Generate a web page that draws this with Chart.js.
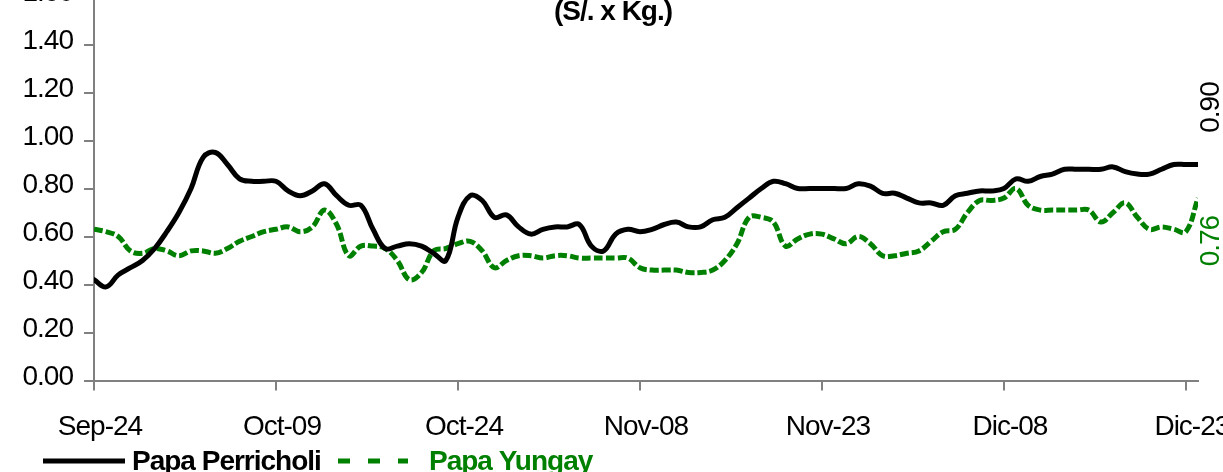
<!DOCTYPE html>
<html>
<head>
<meta charset="utf-8">
<script src="https://cdn.jsdelivr.net/npm/chart.js@4.4.1/dist/chart.umd.min.js"></script>
<style>
  html, body { margin: 0; padding: 0; background: #fff; }
  #wrap { position: relative; width: 1223px; height: 472px; overflow: hidden; }
  #chart { position: absolute; left: 0; top: -20px; }
</style>
</head>
<body>
<div id="wrap"><canvas id="chart" width="1223" height="492"></canvas></div>
<script>
// precios diarios (S/. x Kg.), Sep-24 .. Dic-24
const perricholi = [
  0.42, 0.39, 0.44, 0.47, 0.50, 0.55, 0.62, 0.70, 0.80, 0.93,
  0.95, 0.90, 0.84, 0.83, 0.83, 0.83, 0.79, 0.77, 0.79, 0.82,
  0.77, 0.73, 0.73, 0.63, 0.55, 0.56, 0.57, 0.56, 0.53, 0.50,
  0.68, 0.77, 0.75, 0.68, 0.69, 0.64, 0.61, 0.63, 0.64, 0.64,
  0.65, 0.56, 0.54, 0.61, 0.63, 0.62, 0.63, 0.65, 0.66, 0.64,
  0.64, 0.67, 0.68, 0.72, 0.76, 0.80, 0.83, 0.82, 0.80, 0.80,
  0.80, 0.80, 0.80, 0.82, 0.81, 0.78, 0.78, 0.76, 0.74, 0.74,
  0.73, 0.77, 0.78, 0.79, 0.79, 0.80, 0.84, 0.83, 0.85, 0.86,
  0.88, 0.88, 0.88, 0.88, 0.89, 0.87, 0.86, 0.86, 0.88, 0.90,
  0.90, 0.90
];
const yungay = [
  0.63, 0.62, 0.60, 0.54, 0.53, 0.55, 0.54, 0.52, 0.54, 0.54,
  0.53, 0.55, 0.58, 0.60, 0.62, 0.63, 0.64, 0.62, 0.64, 0.71,
  0.65, 0.52, 0.56, 0.56, 0.55, 0.50, 0.42, 0.45, 0.54, 0.55,
  0.57, 0.58, 0.54, 0.47, 0.50, 0.52, 0.52, 0.51, 0.52, 0.52,
  0.51, 0.51, 0.51, 0.51, 0.51, 0.47, 0.46, 0.46, 0.46, 0.45,
  0.45, 0.46, 0.50, 0.57, 0.68, 0.68, 0.66, 0.56, 0.59, 0.61,
  0.61, 0.59, 0.57, 0.60, 0.57, 0.52, 0.52, 0.53, 0.54, 0.58,
  0.62, 0.63, 0.70, 0.75, 0.75, 0.76, 0.80, 0.73, 0.71, 0.71,
  0.71, 0.71, 0.71, 0.66, 0.70, 0.74, 0.68, 0.63, 0.64, 0.63,
  0.62, 0.76
];
const xTickLabels = ['Sep-24', 'Oct-09', 'Oct-24', 'Nov-08', 'Nov-23', 'Dic-08', 'Dic-23'];
const yTickLabels = ['0.00', '0.20', '0.40', '0.60', '0.80', '1.00', '1.20', '1.40', '1.60'];
const seriesNames = ['Papa Perricholi', 'Papa Yungay'];

const GREEN = '#008000';
const AXIS = '#808080';
const FONT = "'Liberation Sans', Arial, sans-serif";

Chart.defaults.font.family = FONT;
Chart.defaults.font.size = 28;
Chart.defaults.color = '#000';

const toPoints = arr => arr.map((v, i) => ({ x: i, y: v }));

// texto algo apretado como en el original
const tightText = {
  id: 'tightText',
  beforeLayout(chart) { chart.ctx.letterSpacing = '-1px'; },
  beforeDraw(chart) { chart.ctx.letterSpacing = '-1px'; }
};

// titulo, etiquetas finales y leyenda
const extras = {
  id: 'extras',
  afterDraw(chart) {
    const ctx = chart.ctx;
    const ys = chart.scales.y;
    ctx.save();
    ctx.letterSpacing = '-1px';

    ctx.font = 'bold 28px ' + FONT;
    ctx.fillStyle = '#000';
    ctx.textAlign = 'center';
    ctx.textBaseline = 'alphabetic';
    ctx.fillText('(S/. x Kg.)', 613, 39.5);

    // valores finales rotados
    const lastP = perricholi[perricholi.length - 1];
    const lastY = yungay[yungay.length - 1];
    ctx.font = '28px ' + FONT;
    ctx.textBaseline = 'middle';
    ctx.textAlign = 'center';
    ctx.save();
    ctx.translate(1211, ys.getPixelForValue(lastP) - 57);
    ctx.rotate(-Math.PI / 2);
    ctx.fillStyle = '#000';
    ctx.fillText(lastP.toFixed(2), 0, 0);
    ctx.restore();
    ctx.save();
    ctx.translate(1211, ys.getPixelForValue(lastY) + 43);
    ctx.rotate(-Math.PI / 2);
    ctx.fillStyle = GREEN;
    ctx.fillText(lastY.toFixed(2), 0, 0);
    ctx.restore();

    // leyenda
    const ly = 481;
    ctx.lineWidth = 5;
    ctx.strokeStyle = '#000';
    ctx.beginPath();
    ctx.moveTo(43, ly); ctx.lineTo(125, ly);
    ctx.stroke();
    ctx.strokeStyle = GREEN;
    ctx.setLineDash([12, 18]);
    ctx.beginPath();
    ctx.moveTo(338, ly); ctx.lineTo(408, ly);
    ctx.stroke();
    ctx.setLineDash([]);
    ctx.font = 'bold 28px ' + FONT;
    ctx.textAlign = 'left';
    ctx.textBaseline = 'alphabetic';
    ctx.fillStyle = '#000';
    ctx.fillText(seriesNames[0], 132, 490);
    ctx.fillStyle = GREEN;
    ctx.fillText(seriesNames[1], 429, 490);
    ctx.restore();
  }
};

new Chart(document.getElementById('chart'), {
  type: 'line',
  data: {
    datasets: [
      {
        label: seriesNames[0],
        data: toPoints(perricholi),
        borderColor: '#000',
        borderWidth: 5,
        tension: 0.4,
        pointRadius: 0,
        borderCapStyle: 'round',
        borderJoinStyle: 'round'
      },
      {
        label: seriesNames[1],
        data: toPoints(yungay),
        borderColor: GREEN,
        borderWidth: 5,
        borderDash: [9, 3],
        tension: 0.4,
        pointRadius: 0,
        borderCapStyle: 'butt'
      }
    ]
  },
  options: {
    responsive: false,
    animation: false,
    layout: { padding: { top: 16.5, right: 25, left: 0, bottom: 0 } },
    plugins: {
      legend: { display: false },
      tooltip: { enabled: false }
    },
    scales: {
      x: {
        type: 'linear',
        min: 0,
        max: perricholi.length - 1,
        grid: { drawOnChartArea: false, drawTicks: true, tickLength: 10, color: AXIS, lineWidth: 2 },
        border: { color: AXIS, width: 2 },
        ticks: {
          stepSize: 15,
          includeBounds: false,
          autoSkip: false,
          maxRotation: 0,
          padding: 20,
          labelOffset: 6,
          callback: (v) => xTickLabels[Math.round(v / 15)]
        },
        afterFit(scale) {
          scale.height = 91.5;
          scale.paddingLeft = 0;
          scale.paddingRight = 0;
        }
      },
      y: {
        min: 0,
        max: 1.6,
        grid: { drawOnChartArea: false, drawTicks: true, tickLength: 10, color: AXIS, lineWidth: 2 },
        border: { color: AXIS, width: 2 },
        ticks: {
          stepSize: 0.2,
          padding: 11,
          labelOffset: -3.5,
          callback: (v) => yTickLabels[Math.round(v / 0.2)]
        },
        afterFit(scale) {
          scale.width = 94;
          scale.paddingTop = 0;
          scale.paddingBottom = 0;
        }
      }
    }
  },
  plugins: [tightText, extras]
});
</script>
</body>
</html>
